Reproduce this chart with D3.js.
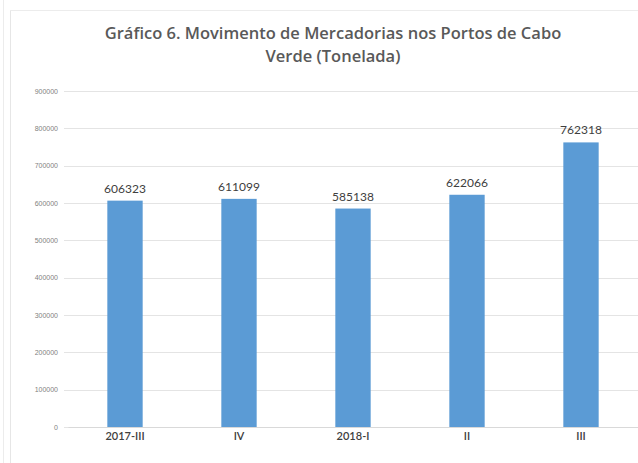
<!DOCTYPE html>
<html>
<head>
<meta charset="utf-8">
<script src="https://cdn.jsdelivr.net/npm/d3@7"></script>
<style>
  body { margin: 0; background: #fff; }
  svg { display: block; }
</style>
</head>
<body>
<script>
const categories = ["2017-III", "IV", "2018-I", "II", "III"]
const values = [606323, 611099, 585138, 622066, 762318]
const yTicks = [0, 100000, 200000, 300000, 400000, 500000, 600000, 700000, 800000, 900000]
const titleLines = ["Gráfico 6. Movimento de Mercadorias nos Portos de Cabo", "Verde (Tonelada)"]

const width = 638
const height = 463

const svg = d3.select("body")
    .append("svg")
    .attr("width", width)
    .attr("height", height)

// faint frame lines like the cropped source
svg.append("line")
    .attr("x1", 3.5).attr("x2", 3.5).attr("y1", 0).attr("y2", height)
    .attr("stroke", "#ececec")
svg.append("line")
    .attr("x1", 10.5).attr("x2", 10.5).attr("y1", 10).attr("y2", height)
    .attr("stroke", "#e6e6e6")
svg.append("line")
    .attr("x1", 10).attr("x2", width).attr("y1", 10.5).attr("y2", 10.5)
    .attr("stroke", "#ececec")

const x = d3.scaleBand()
    .domain(categories)
    .range([68, 638])
    .paddingInner(0.69)
    .paddingOuter(0.345)

const y = d3.scaleLinear()
    .domain([0, 900000])
    .range([427, 91])

const chart = svg.append("g")

// gridlines
chart.append("g")
    .selectAll("line")
    .data(yTicks)
    .join("line")
    .attr("x1", 64)
    .attr("x2", 638)
    .attr("y1", d => Math.round(y(d)) + 0.5)
    .attr("y2", d => Math.round(y(d)) + 0.5)
    .attr("stroke", "#e4e4e4")

const yAxis = d3.axisLeft(y)
    .tickValues(yTicks)
    .tickFormat(d3.format("d"))
    .tickSize(0)
    .tickPadding(0)

chart.append("g")
    .attr("class", "y-axis")
    .attr("transform", "translate(58,0)")
    .call(yAxis)
    .call(g => g.select(".domain").remove())
    .call(g => g.selectAll("text")
        .attr("fill", "#7f7f7f")
        .attr("font-family", "Liberation Sans, Arial, sans-serif")
        .attr("font-size", 7))

chart.append("g")
    .selectAll("rect")
    .data(values)
    .join("rect")
    .attr("x", (d, i) => x(categories[i]))
    .attr("y", d => y(d))
    .attr("width", x.bandwidth())
    .attr("height", d => y(0) - y(d))
    .attr("fill", "#5b9bd5")

chart.append("g")
    .selectAll("text")
    .data(values)
    .join("text")
    .attr("x", (d, i) => x(categories[i]) + x.bandwidth() / 2)
    .attr("y", d => y(d) - 8)
    .attr("text-anchor", "middle")
    .attr("fill", "#404040")
    .attr("font-family", "Lato, sans-serif")
    .attr("font-size", 12)
    .text(d => d)

const xAxis = d3.axisBottom(x).tickSize(0).tickPadding(5)

chart.append("g")
    .attr("class", "x-axis")
    .attr("transform", `translate(0,${y(0)})`)
    .call(xAxis)
    .call(g => g.select(".domain").attr("stroke", "#d9d9d9"))
    .call(g => g.selectAll("text")
        .attr("fill", "#404040")
        .attr("font-family", "Lato, sans-serif")
        .attr("font-weight", 600)
        .attr("font-size", 11))

svg.append("g")
    .selectAll("text")
    .data(titleLines)
    .join("text")
    .attr("x", 333)
    .attr("y", (d, i) => 39 + i * 23)
    .attr("text-anchor", "middle")
    .attr("fill", "#595959")
    .attr("font-family", "Open Sans, sans-serif")
    .attr("font-weight", 600)
    .attr("font-size", 16.5)
    .text(d => d)
</script>
</body>
</html>
